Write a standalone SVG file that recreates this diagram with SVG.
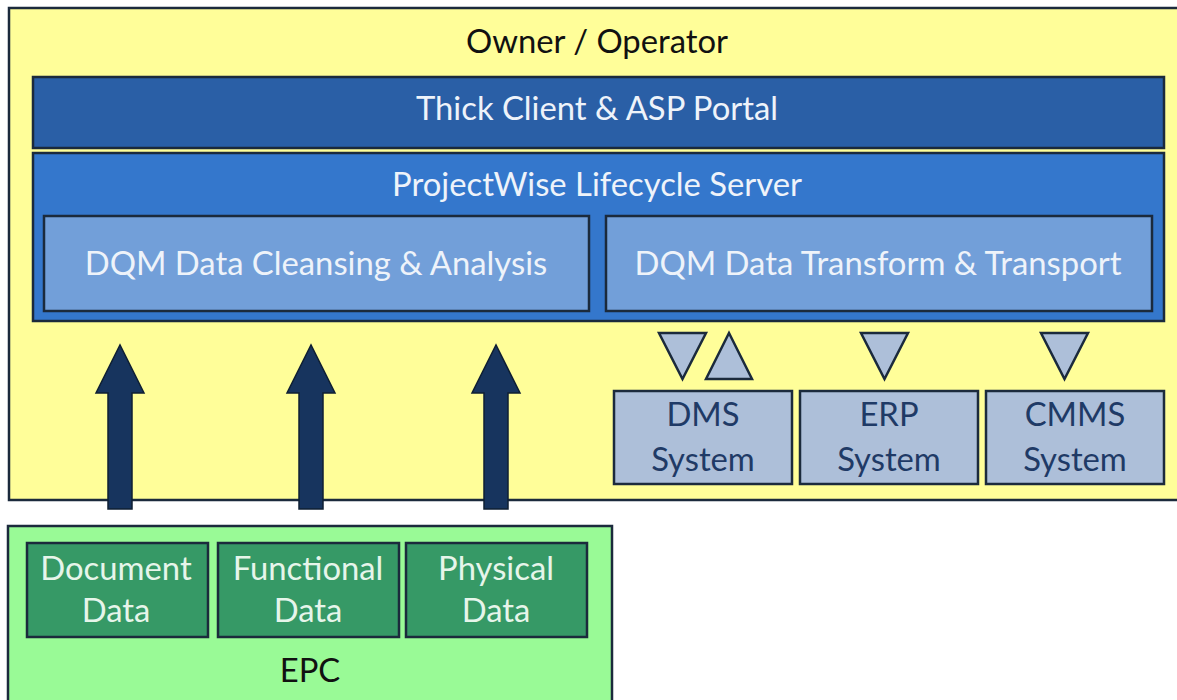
<svg xmlns="http://www.w3.org/2000/svg" width="1177" height="700" viewBox="0 0 1177 700">
<style>
text{font-family:Lato,"Open Sans","Liberation Sans",sans-serif;font-size:32.8px;text-anchor:middle;dominant-baseline:central}
.box{stroke:#1b2a3c;stroke-width:2.5}
.w{fill:#eef3fa}
.d{fill:#1f3a66}
.g{fill:#e6f5ea}
.sys{fill:#adbfd9}
.tri{fill:#adbfd9;stroke:#1b2a3c;stroke-width:2.5;stroke-linejoin:miter}
.arr{fill:#17345e;stroke:#0f1f33;stroke-width:1.5}
</style>
<rect width="1177" height="700" fill="#fff"/>
<g id="owner">
<rect class="box" x="9" y="8" width="1180" height="492" fill="#fffe99"/>
<text x="597" y="40" fill="#111">Owner / Operator</text>
</g>
<g id="thick-client">
<rect class="box" x="33" y="77" width="1131" height="71" fill="#2a5fa6"/>
<text class="w" x="597" y="107">Thick Client &amp; ASP Portal</text>
</g>
<g id="projectwise">
<rect class="box" x="33" y="153" width="1131" height="168" fill="#3477cc"/>
<text class="w" x="597" y="183">ProjectWise Lifecycle Server</text>
</g>
<g id="dqm-cleansing">
<rect class="box" x="44" y="216" width="545" height="95" fill="#729fd9"/>
<text class="w" x="316" y="262">DQM Data Cleansing &amp; Analysis</text>
</g>
<g id="dqm-transform">
<rect class="box" x="606" y="216" width="546" height="95" fill="#729fd9"/>
<text class="w" x="878" y="262">DQM Data Transform &amp; Transport</text>
</g>
<g id="dms">
<rect class="box sys" x="614" y="391" width="178" height="93"/>
<text class="d" x="703" y="413">DMS</text>
<text class="d" x="703" y="458">System</text>
</g>
<g id="erp">
<rect class="box sys" x="800" y="391" width="178" height="93"/>
<text class="d" x="889" y="413">ERP</text>
<text class="d" x="889" y="458">System</text>
</g>
<g id="cmms">
<rect class="box sys" x="986" y="391" width="178" height="93"/>
<text class="d" x="1075" y="413">CMMS</text>
<text class="d" x="1075" y="458">System</text>
</g>
<g id="epc">
<rect class="box" x="8" y="526" width="604" height="190" fill="#99fa96"/>
<text x="310" y="669" fill="#111">EPC</text>
</g>
<g id="document-data">
<rect class="box" x="27" y="543" width="181" height="94" fill="#369966"/>
<text class="g" x="116" y="567">Document</text>
<text class="g" x="116" y="609">Data</text>
</g>
<g id="functional-data">
<rect class="box" x="218" y="543" width="181" height="94" fill="#369966"/>
<text class="g" x="308" y="567">Functional</text>
<text class="g" x="308" y="609">Data</text>
</g>
<g id="physical-data">
<rect class="box" x="406" y="543" width="181" height="94" fill="#369966"/>
<text class="g" x="496" y="567">Physical</text>
<text class="g" x="496" y="609">Data</text>
</g>
<g id="connectors">
<polygon class="arr" points="108,509 108,393 96,393 120,345 144,393 132,393 132,509"/>
<polygon class="arr" points="299,509 299,393 287,393 311,345 335,393 323,393 323,509"/>
<polygon class="arr" points="484,509 484,393 472,393 496,345 520,393 508,393 508,509"/>
<polygon class="tri" points="659,333 706,333 682.5,379"/>
<polygon class="tri" points="729,333 752,379 706,379"/>
<polygon class="tri" points="861,333 908,333 884.5,379"/>
<polygon class="tri" points="1041,333 1088,333 1064.5,379"/>
</g>
</svg>
